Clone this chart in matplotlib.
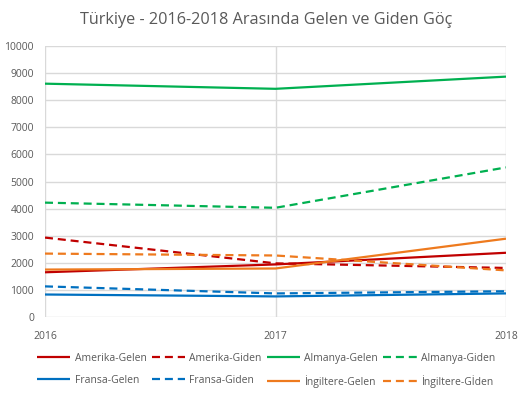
import matplotlib
matplotlib.use('agg')
import matplotlib.pyplot as plt

years = [2016, 2017, 2018]
amerika_gelen = [1650, 1940, 2370]
amerika_giden = [2930, 1980, 1810]
almanya_gelen = [8610, 8420, 8870]
almanya_giden = [4220, 4030, 5520]
fransa_gelen = [830, 760, 870]
fransa_giden = [1130, 870, 950]
ingiltere_gelen = [1750, 1790, 2890]
ingiltere_giden = [2340, 2270, 1720]

series = [
    ('Amerika-Gelen', amerika_gelen, '#C00000', '-'),
    ('Amerika-Giden', amerika_giden, '#C00000', '--'),
    ('Almanya-Gelen', almanya_gelen, '#00B050', '-'),
    ('Almanya-Giden', almanya_giden, '#00B050', '--'),
    ('Fransa-Gelen', fransa_gelen, '#0070C0', '-'),
    ('Fransa-Giden', fransa_giden, '#0070C0', '--'),
    ('İngiltere-Gelen', ingiltere_gelen, '#EE7A1E', '-'),
    ('İngiltere-Gİden', ingiltere_giden, '#EE7A1E', '--'),
]

plt.rcParams['font.family'] = ['Open Sans', 'DejaVu Sans']
grey = '#595959'

fig = plt.figure(figsize=(5.32, 3.97), dpi=100)
ax = fig.add_axes([45/532, 80/397, 461/532, 271/397])

handles = []
for name, vals, col, ls in series:
    line, = ax.plot(years, vals, color=col, lw=1.6, label=name, solid_capstyle='butt')
    if ls == '--':
        line.set_dashes((3.6, 2.2))
    handles.append(line)

ax.set_xlim(2016, 2018)
ax.set_ylim(0, 10000)
ax.set_xticks(years)
ax.set_yticks(range(0, 10001, 1000))
ax.grid(True, color='#D9D9D9', lw=1)
ax.set_axisbelow(True)
for s in ax.spines.values():
    s.set_visible(False)
ax.tick_params(length=0, labelsize=7.5, colors=grey)
ax.tick_params(axis='x', pad=10)
ax.tick_params(axis='y', pad=8)

fig.suptitle('Türkiye - 2016-2018 Arasında Gelen ve Giden Göç', y=0.97,
             fontsize=11.7, color=grey)

# legend fills by column, so reorder to get row-wise order
order = [0, 4, 1, 5, 2, 6, 3, 7]
fig.legend([handles[i] for i in order], [series[i][0] for i in order],
           loc='lower center', bbox_to_anchor=(0.5, 0.0), ncol=4, frameon=False,
           fontsize=7.5, labelcolor=grey, handlelength=3.2, handletextpad=0.4,
           columnspacing=0.5, labelspacing=1.05)

fig.savefig('out.png', dpi=100)
